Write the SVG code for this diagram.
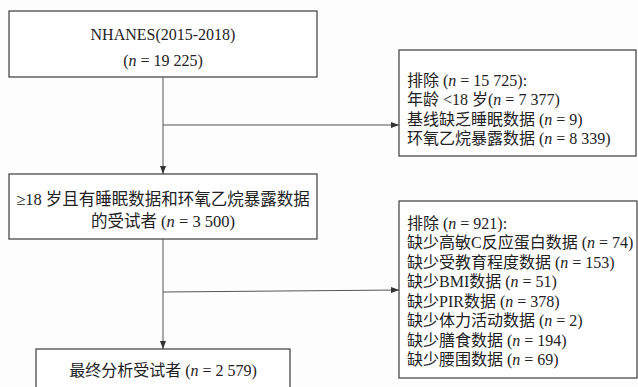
<svg xmlns="http://www.w3.org/2000/svg" width="638" height="387" viewBox="0 0 638 387">
<style>
.box{fill:#fefefe;stroke:#4a4a4a;stroke-width:1.3}
.t{font-family:"Liberation Serif","Noto Sans CJK SC",serif;font-size:16px;fill:#222}
.c{text-anchor:middle}
.i{font-style:italic}
.ln{fill:none;stroke:#555;stroke-width:1}
</style>
<defs>
<marker id="ah" viewBox="0 0 8 6" refX="8" refY="3" markerWidth="8" markerHeight="6" markerUnits="userSpaceOnUse" orient="auto">
<path d="M0,0 L8,3 L0,6 Z" fill="#333"/>
</marker>
</defs>
<rect width="638" height="387" fill="#fdfdfd"/>
<g id="connectors">
<path class="ln" d="M163,77 V174" marker-end="url(#ah)"/>
<path class="ln" d="M163,125 H399" marker-end="url(#ah)"/>
<path class="ln" d="M163,239 V349" marker-end="url(#ah)"/>
<path class="ln" d="M163,292 L399,290" marker-end="url(#ah)"/>
</g>
<g id="n1">
<rect class="box" x="9" y="11" width="308" height="66"/>
<text class="t c" x="163" y="40">NHANES(2015-2018)</text>
<text class="t c" x="163" y="66">(<tspan class="i">n</tspan> = 19 225)</text>
</g>
<g id="n2">
<rect class="box" x="399" y="50" width="237" height="106"/>
<text class="t" x="407" y="85.5">排除 (<tspan class="i">n</tspan> = 15 725):</text>
<text class="t" x="407" y="105">年龄 &lt;18 岁(<tspan class="i">n</tspan> = 7 377)</text>
<text class="t" x="407" y="124.5">基线缺乏睡眠数据 (<tspan class="i">n</tspan> = 9)</text>
<text class="t" x="407" y="144">环氧乙烷暴露数据 (<tspan class="i">n</tspan> = 8 339)</text>
</g>
<g id="n3">
<rect class="box" x="9" y="174" width="308" height="65"/>
<text class="t c" x="163" y="205" style="font-size:16.5px">≥18 岁且有睡眠数据和环氧乙烷暴露数据</text>
<text class="t c" x="163" y="227" style="font-size:16.5px">的受试者 (<tspan class="i">n</tspan> = 3 500)</text>
</g>
<g id="n4">
<rect class="box" x="399" y="201" width="238" height="177"/>
<text class="t" x="407" y="228.5">排除 (<tspan class="i">n</tspan> = 921):</text>
<text class="t" x="407" y="248">缺少高敏C反应蛋白数据 (<tspan class="i">n</tspan> = 74)</text>
<text class="t" x="407" y="267.5">缺少受教育程度数据 (<tspan class="i">n</tspan> = 153)</text>
<text class="t" x="407" y="287">缺少BMI数据 (<tspan class="i">n</tspan> = 51)</text>
<text class="t" x="407" y="306.5">缺少PIR数据 (<tspan class="i">n</tspan> = 378)</text>
<text class="t" x="407" y="326">缺少体力活动数据 (<tspan class="i">n</tspan> = 2)</text>
<text class="t" x="407" y="345.5">缺少膳食数据 (<tspan class="i">n</tspan> = 194)</text>
<text class="t" x="407" y="365">缺少腰围数据 (<tspan class="i">n</tspan> = 69)</text>
</g>
<g id="n5">
<rect class="box" x="36" y="349" width="254" height="50"/>
<text class="t c" x="163" y="375.5">最终分析受试者 (<tspan class="i">n</tspan> = 2 579)</text>
</g>
</svg>
